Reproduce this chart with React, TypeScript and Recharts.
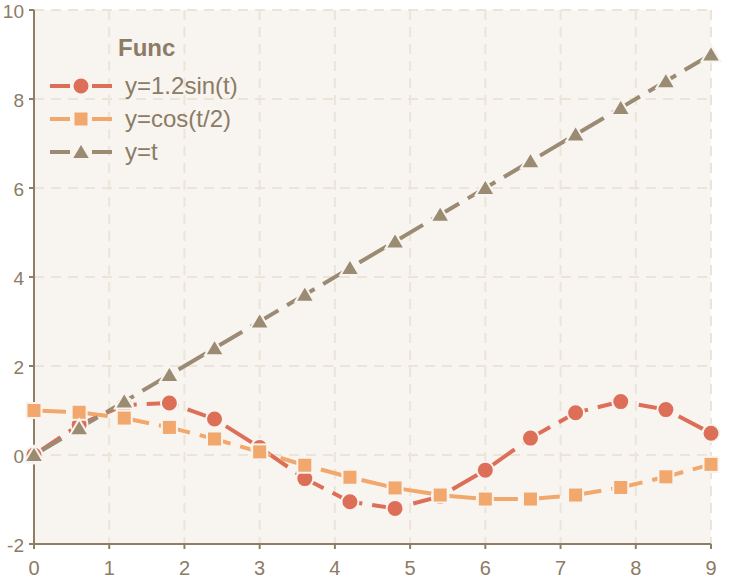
import React from "react";
import {
  LineChart, Line, XAxis, YAxis, CartesianGrid,
} from "recharts";

const tValues = [0, 0.6, 1.2, 1.8, 2.4, 3.0, 3.6, 4.2, 4.8, 5.4, 6.0, 6.6, 7.2, 7.8, 8.4, 9.0];
const sinValues = [0, 0.68, 1.12, 1.17, 0.81, 0.17, -0.53, -1.05, -1.2, -0.93, -0.34, 0.38, 0.95, 1.2, 1.02, 0.49];
const cosValues = [1, 0.96, 0.83, 0.62, 0.36, 0.07, -0.23, -0.5, -0.74, -0.9, -0.99, -0.99, -0.9, -0.73, -0.49, -0.21];
const linValues = [0, 0.6, 1.2, 1.8, 2.4, 3.0, 3.6, 4.2, 4.8, 5.4, 6.0, 6.6, 7.2, 7.8, 8.4, 9.0];
const xTicks = [0, 1, 2, 3, 4, 5, 6, 7, 8, 9];
const yTicks = [-2, 0, 2, 4, 6, 8, 10];

const BG = "#f8f5f0";
const AXIS = "#8f7e66";
const TEXT = "#8c7b65";
const FONT = "'Liberation Sans', Arial, sans-serif";

const series = [
  { key: "sin", name: "y=1.2sin(t)", color: "#dd6f58", marker: "circle" },
  { key: "cos", name: "y=cos(t/2)", color: "#f2a76c", marker: "square" },
  { key: "lin", name: "y=t", color: "#9b8b73", marker: "triangle" },
];

const data = tValues.map((t, i) => ({
  t, sin: sinValues[i], cos: cosValues[i], lin: linValues[i],
}));

function Marker({ cx, cy, kind, color }: any) {
  if (cx == null || cy == null) return null;
  if (kind === "circle")
    return <circle cx={cx} cy={cy} r={8.5} fill={color} stroke={BG} strokeWidth={2} />;
  if (kind === "square")
    return <rect x={cx - 7.5} y={cy - 7.5} width={15} height={15} fill={color} stroke={BG} strokeWidth={2} />;
  return (
    <polygon
      points={`${cx},${cy - 9} ${cx + 9.5},${cy + 7} ${cx - 9.5},${cy + 7}`}
      fill={color} stroke={BG} strokeWidth={2}
    />
  );
}

function LegendBox() {
  return (
    <div style={{ position: "absolute", left: 50, top: 33, fontFamily: FONT, color: TEXT, lineHeight: 1 }}>
      <div style={{ fontWeight: "bold", fontSize: 24, marginLeft: 68, height: 36, paddingTop: 3, boxSizing: "border-box" }}>Func</div>
      {series.map((s) => (
        <div key={s.key} style={{ display: "flex", alignItems: "center", height: 33 }}>
          <svg width={62} height={24} style={{ display: "block" }}>
            <line x1={0} y1={12} x2={20} y2={12} stroke={s.color} strokeWidth={4} />
            <line x1={42} y1={12} x2={62} y2={12} stroke={s.color} strokeWidth={4} />
            <Marker cx={31} cy={12} kind={s.marker} color={s.color} />
          </svg>
          <span style={{ fontSize: 24, marginLeft: 13 }}>{s.name}</span>
        </div>
      ))}
    </div>
  );
}

export default function App() {
  return (
    <div style={{ position: "absolute", left: 0, top: 0, width: 729, height: 579, background: "#ffffff" }}>
      <LineChart width={729} height={579} data={data} margin={{ top: 10, right: 18, left: 0, bottom: 0 }}>
        <CartesianGrid fill={BG} stroke="#ebe5d9" strokeWidth={2} strokeDasharray="10 7" />
        <XAxis
          dataKey="t" type="number" domain={[0, 9]} ticks={xTicks} height={35}
          stroke={AXIS} strokeWidth={2} tickSize={5} tickMargin={12}
          tick={{ fill: TEXT, fontSize: 20, fontFamily: FONT }}
          interval={0}
        />
        <YAxis
          type="number" domain={[-2, 10]} ticks={yTicks} width={34}
          stroke={AXIS} strokeWidth={2} tickSize={5} tickMargin={5}
          tick={{ fill: TEXT, fontSize: 19, fontFamily: FONT, dy: 1 }}
          interval={0}
        />
        {series.map((s) => (
          <Line
            key={s.key}
            dataKey={s.key}
            name={s.name}
            stroke={s.color}
            strokeWidth={4}
            strokeDasharray="32 10"
            isAnimationActive={false}
            dot={(p: any) => <Marker key={`${s.key}-${p.index}`} cx={p.cx} cy={p.cy} kind={s.marker} color={s.color} />}
            activeDot={false}
          />
        ))}
      </LineChart>
      <LegendBox />
    </div>
  );
}
